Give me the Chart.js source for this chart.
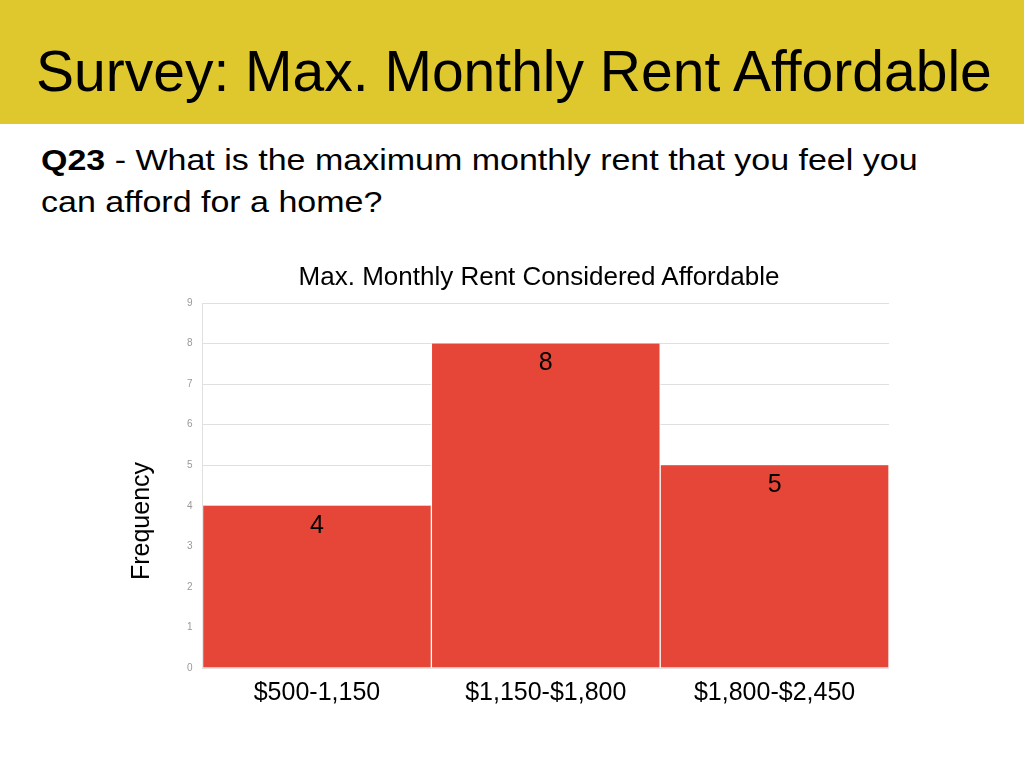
<!DOCTYPE html>
<html>
<head>
<meta charset="utf-8">
<script src="https://cdn.jsdelivr.net/npm/chart.js@4"></script>
<style>
  html, body { margin: 0; padding: 0; background: #fff; }
  body { width: 1024px; height: 768px; position: relative; overflow: hidden; font-family: "Liberation Sans", Arial, sans-serif; }
  .header { position: absolute; left: 0; top: 0; width: 1024px; height: 124px; background: #dfc82e; }
  .header h1 { position: absolute; left: 36px; top: 43px; margin: 0; font-weight: normal; font-size: 57px; line-height: 57px; color: #000; white-space: nowrap; }
  .question { position: absolute; left: 41px; top: 139px; margin: 0; font-size: 30px; line-height: 42px; color: #000; white-space: nowrap; transform: scaleX(1.133); transform-origin: left top; }
  .chart-title { position: absolute; left: 239px; top: 263px; width: 600px; text-align: center; font-size: 26px; line-height: 26px; white-space: nowrap; color: #000; }
  .y-title { position: absolute; left: 40px; top: 506px; width: 200px; height: 30px; text-align: center; font-size: 25px; line-height: 30px; color: #000; transform: rotate(-90deg); }
  .chart-box { position: absolute; left: 0; top: 250px; width: 1024px; height: 518px; }
</style>
</head>
<body>
<div class="header"><h1>Survey: Max. Monthly Rent Affordable</h1></div>
<p class="question"><b>Q23</b> - What is the maximum monthly rent that you feel you<br>can afford for a home?</p>
<div class="chart-box"><canvas id="rentChart"></canvas></div>
<div class="chart-title">Max. Monthly Rent Considered Affordable</div>
<div class="y-title">Frequency</div>
<script>
const categories = ['$500-1,150', '$1,150-$1,800', '$1,800-$2,450']
const frequency = [4, 8, 5]
const yMax = 9

// write the count just under the top of each bar
const barValues = {
  id: 'barValues',
  afterDatasetsDraw(chart) {
    const c = chart.ctx
    const meta = chart.getDatasetMeta(0)
    c.save()
    c.font = '25px "Liberation Sans", Arial, sans-serif'
    c.fillStyle = '#000'
    c.textAlign = 'center'
    c.textBaseline = 'middle'
    meta.data.forEach((bar, i) => {
      c.fillText(frequency[i], bar.x, bar.y + 20)
    })
    c.restore()
  }
}

const ctx = document.getElementById('rentChart')

new Chart(ctx, {
  type: 'bar',
  data: {
    labels: categories,
    datasets: [{
      label: 'Frequency',
      data: frequency,
      backgroundColor: '#e54637',
      borderColor: '#ffffff',
      borderWidth: { left: 1, right: 1, top: 0, bottom: 0 },
      borderSkipped: false,
      categoryPercentage: 1,
      barPercentage: 1
    }]
  },
  options: {
    responsive: true,
    maintainAspectRatio: false,
    animation: false,
    layout: { padding: { left: 177, right: 135, top: 53, bottom: 58 } },
    plugins: {
      legend: { display: false },
      tooltip: { enabled: false }
    },
    scales: {
      x: {
        grid: { display: false },
        border: { display: false },
        ticks: { color: '#000', padding: 2, font: { family: '"Liberation Sans", Arial, sans-serif', size: 25 } }
      },
      y: {
        min: 0,
        max: yMax,
        grid: { color: '#e0e0e0', drawTicks: false },
        border: { color: '#e0e0e0' },
        ticks: { stepSize: 1, color: '#999', padding: 10, font: { family: '"Liberation Sans", Arial, sans-serif', size: 10 } }
      }
    }
  },
  plugins: [barValues]
})
</script>
</body>
</html>
